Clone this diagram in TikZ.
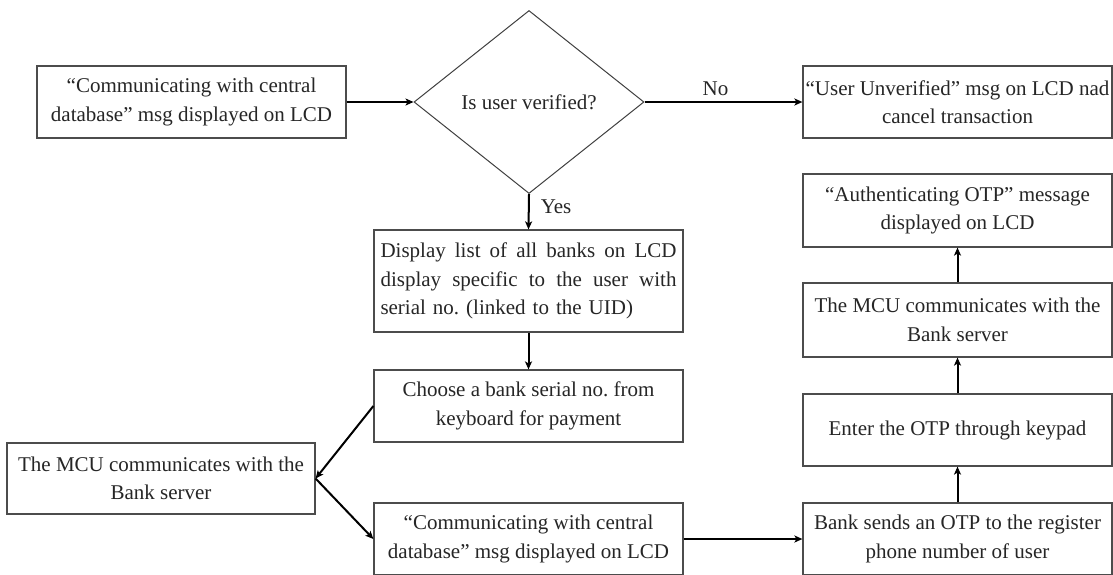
\documentclass[tikz,border=0pt]{standalone}
\usepackage{fontspec}
\setmainfont{Liberation Serif}
\usetikzlibrary{shapes.geometric,arrows.meta}
\frenchspacing
\newcommand\fullline[1]{\leavevmode\hbox to 296pt{#1}}
\begin{document}
\begin{tikzpicture}[x=1pt,y=-1pt,
  every node/.style={font=\fontsize{21}{28.5}\selectfont, text=black!85},
  box/.style={draw=black!70, line width=1.2pt, rectangle, minimum width=309pt,
              minimum height=72pt, inner sep=0pt, align=center},
  decision/.style={draw=black!75, line width=1pt, diamond, minimum width=230pt,
                   minimum height=183pt, inner sep=0pt},
  flow/.style={line width=2pt, -{Stealth[length=8pt,width=7pt,inset=2pt]}},
  tag/.style={inner sep=0pt}
]
\useasboundingbox[fill=white] (0,0) rectangle (1113,574);

% top row
\node[box] (start) at (191.5,102)
  {“Communicating with central\\database” msg displayed on LCD};
\node[decision] (verify) at (529,102) {Is user verified?};
\node[box] (unver) at (957.5,102)
  {“User Unverified” msg on LCD nad\\cancel transaction};

% middle column (first two lines of the list box are set full width)
\node[box, minimum height=102pt, text width=296pt, align=left] (banks) at (528.5,281)
  {\fullline{Display\hfill list\hfill of\hfill all\hfill banks\hfill on\hfill LCD}\\
   \fullline{display\hfill specific\hfill to\hfill the\hfill user\hfill with}\\
   serial no. (linked to the UID)};
\node[box] (choose) at (528.5,406)
  {Choose a bank serial no. from\\keyboard for payment};
\node[box, minimum width=308pt, minimum height=71pt] (mcuL) at (161,478.5)
  {The MCU communicates with the\\Bank server};
\node[box] (comm) at (528.5,539)
  {“Communicating with central\\database” msg displayed on LCD};

% right column
\node[box] (otp) at (957.5,539)
  {Bank sends an OTP to the register\\phone number of user};
\node[box] (enter) at (957.5,430) {Enter the OTP through keypad};
\node[box, minimum height=74pt] (mcuR) at (957.5,320)
  {The MCU communicates with the\\Bank server};
\node[box, minimum height=73pt] (auth) at (957.5,210.5)
  {“Authenticating OTP” message\\displayed on LCD};

% connectors
\draw[flow] (start.east) -- (verify.west);
\draw[flow] (verify.east) -- node[above=2pt, pos=0.45] (no) {No} (unver.west);
\draw[flow] (verify.south) -- node[tag, anchor=west, xshift=11pt, pos=0.35] (yes) {Yes} (banks.north);
\draw[flow] (banks.south) -- (choose.north);
\draw[flow] (choose.west) -- (mcuL.east);
\draw[flow] (mcuL.east) -- (comm.west);
\draw[flow] (comm.east) -- (otp.west);
\draw[flow] (otp.north) -- (enter.south);
\draw[flow] (enter.north) -- (mcuR.south);
\draw[flow] (mcuR.north) -- (auth.south);
\end{tikzpicture}
\end{document}
